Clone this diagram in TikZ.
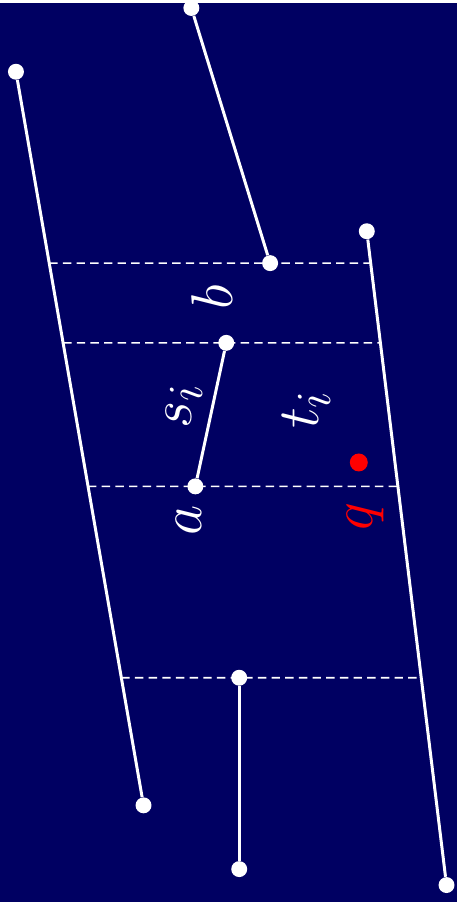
\documentclass[tikz,border=0pt]{standalone}
\usepackage{amsmath}
\usepackage{tikz}
\usetikzlibrary{calc}
\definecolor{navy}{HTML}{000062}
\pgfdeclarelayer{bg}
\pgfsetlayers{bg,main}
\newcommand{\biglbl}[1]{\scalebox{1.35}{$#1$}}

\begin{document}
\begin{tikzpicture}[x=0.02cm, y=-0.02cm,
    vtx/.style = {circle, fill=white, inner sep=0pt, minimum size=0.32cm},
    seg/.style = {white, line width=1.7pt},
    proj/.style = {white, line width=0.9pt, dash pattern=on 4.8pt off 3pt},
    lbl/.style = {white, rotate=90, inner sep=0pt, font=\Huge}]
		\node[vtx] (l1) at (16,69) {};
		\node[vtx] (l2) at (144,805) {};
		\node[vtx] (u1) at (192,5) {};
		\node[vtx] (u2) at (271,261) {};
		\node[vtx] (r1) at (368,229) {};
		\node[vtx] (r2) at (448,885) {};
		\node[vtx] (a) at (196,485) {};
		\node[vtx] (b) at (227,341) {};
		\node[vtx] (w1) at (240,677) {};
		\node[vtx] (w2) at (240,869) {};
		\node[circle, fill=red, inner sep=0pt, minimum size=0.36cm] (q) at (360,461) {};

		\draw[seg] (l1) -- (l2);
		\draw[seg] (u1) -- (u2);
		\draw[seg] (r1) -- (r2);
		\draw[seg] (a) -- (b);
		\draw[seg] (w1) -- (w2);

		\node[lbl] (la) at (189,519) {\biglbl{a}};
		\node[lbl] (lb) at (213,295) {\biglbl{b}};
		\node[lbl] (ls) at (185,405) {\biglbl{s_i}};
		\node[lbl] (lt) at (307,408) {\biglbl{t_i}};
		\node[lbl, text=red] (lq) at (367,515) {\biglbl{q}};

		\begin{pgfonlayer}{bg}
		\fill[navy] (0,0) rectangle (459,902);
		\draw[proj] ($(l1.center)!0.2609!(l2.center)$) -- ($(r1.center)!0.0488!(r2.center)$);
		\draw[proj] ($(l1.center)!0.3696!(l2.center)$) -- ($(r1.center)!0.1707!(r2.center)$);
		\draw[proj] ($(l1.center)!0.5652!(l2.center)$) -- ($(r1.center)!0.3902!(r2.center)$);
		\draw[proj] ($(l1.center)!0.8261!(l2.center)$) -- ($(r1.center)!0.6829!(r2.center)$);
		\end{pgfonlayer}
	\end{tikzpicture}
\end{document}
